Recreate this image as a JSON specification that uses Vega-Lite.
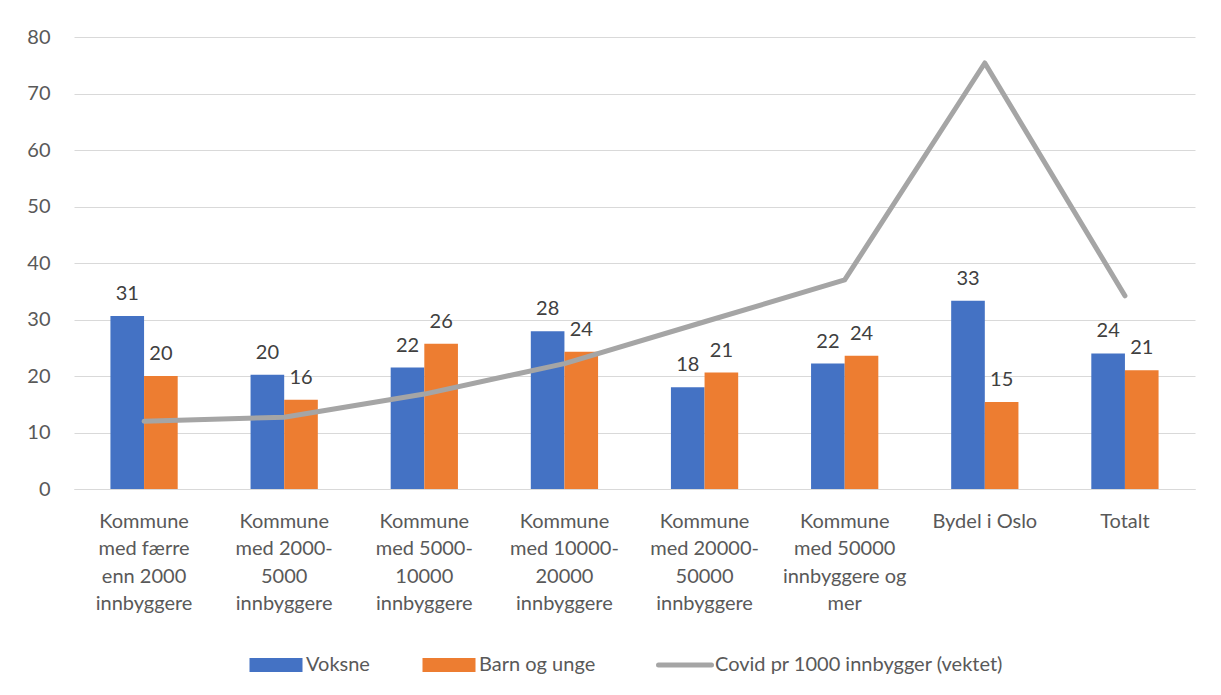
{
  "$schema": "https://vega.github.io/schema/vega-lite/v6.json",
  "width": 1221,
  "height": 695,
  "autosize": {"type": "fit", "contains": "padding"},
  "padding": {"left": 26, "top": 27, "right": 26, "bottom": 20},
  "background": "white",
  "config": {
    "font": "Lato",
    "view": {"stroke": null},
    "axis": {"labelFont": "Lato", "labelFontSize": 20, "labelColor": "#595959", "title": null},
    "legend": {"layout": {"bottom": {"anchor": "middle"}}}
  },
  "data": {
    "values": [
      {"kategori": "Kommune|med færre|enn 2000|innbyggere", "serie": "Voksne", "verdi": 30.6},
      {"kategori": "Kommune|med 2000-|5000|innbyggere", "serie": "Voksne", "verdi": 20.2},
      {"kategori": "Kommune|med 5000-|10000|innbyggere", "serie": "Voksne", "verdi": 21.5},
      {"kategori": "Kommune|med 10000-|20000|innbyggere", "serie": "Voksne", "verdi": 27.9},
      {"kategori": "Kommune|med 20000-|50000|innbyggere", "serie": "Voksne", "verdi": 18.0},
      {"kategori": "Kommune|med 50000|innbyggere og|mer", "serie": "Voksne", "verdi": 22.2},
      {"kategori": "Bydel i Oslo", "serie": "Voksne", "verdi": 33.3},
      {"kategori": "Totalt", "serie": "Voksne", "verdi": 24.0},
      {"kategori": "Kommune|med færre|enn 2000|innbyggere", "serie": "Barn og unge", "verdi": 20.0},
      {"kategori": "Kommune|med 2000-|5000|innbyggere", "serie": "Barn og unge", "verdi": 15.8},
      {"kategori": "Kommune|med 5000-|10000|innbyggere", "serie": "Barn og unge", "verdi": 25.7},
      {"kategori": "Kommune|med 10000-|20000|innbyggere", "serie": "Barn og unge", "verdi": 24.3},
      {"kategori": "Kommune|med 20000-|50000|innbyggere", "serie": "Barn og unge", "verdi": 20.6},
      {"kategori": "Kommune|med 50000|innbyggere og|mer", "serie": "Barn og unge", "verdi": 23.6},
      {"kategori": "Bydel i Oslo", "serie": "Barn og unge", "verdi": 15.4},
      {"kategori": "Totalt", "serie": "Barn og unge", "verdi": 21.0},
      {"kategori": "Kommune|med færre|enn 2000|innbyggere", "serie": "Covid pr 1000 innbygger (vektet)", "verdi": 12.0},
      {"kategori": "Kommune|med 2000-|5000|innbyggere", "serie": "Covid pr 1000 innbygger (vektet)", "verdi": 12.7},
      {"kategori": "Kommune|med 5000-|10000|innbyggere", "serie": "Covid pr 1000 innbygger (vektet)", "verdi": 16.8},
      {"kategori": "Kommune|med 10000-|20000|innbyggere", "serie": "Covid pr 1000 innbygger (vektet)", "verdi": 22.2},
      {"kategori": "Kommune|med 20000-|50000|innbyggere", "serie": "Covid pr 1000 innbygger (vektet)", "verdi": 29.6},
      {"kategori": "Kommune|med 50000|innbyggere og|mer", "serie": "Covid pr 1000 innbygger (vektet)", "verdi": 37.0},
      {"kategori": "Bydel i Oslo", "serie": "Covid pr 1000 innbygger (vektet)", "verdi": 75.4},
      {"kategori": "Totalt", "serie": "Covid pr 1000 innbygger (vektet)", "verdi": 34.2}
    ]
  },
  "encoding": {
    "x": {
      "field": "kategori",
      "type": "nominal",
      "sort": null,
      "scale": {"paddingInner": 0.52, "paddingOuter": 0.26},
      "axis": {
        "labelAngle": 0,
        "labelExpr": "split(datum.label, '|')",
        "labelLineHeight": 27.5,
        "labelPadding": 22,
        "labelBaseline": "top",
        "ticks": false,
        "domainColor": "#d9d9d9",
        "domainWidth": 1,
        "labelLimit": 200
      }
    },
    "y": {
      "field": "verdi",
      "type": "quantitative",
      "scale": {"domain": [0, 80], "nice": false},
      "axis": {
        "values": [0, 10, 20, 30, 40, 50, 60, 70, 80],
        "grid": true,
        "gridColor": "#d9d9d9",
        "domain": false,
        "ticks": false,
        "labelPadding": 24
      }
    },
    "color": {
      "field": "serie",
      "type": "nominal",
      "scale": {
        "domain": ["Voksne", "Barn og unge", "Covid pr 1000 innbygger (vektet)"],
        "range": ["#4472C4", "#ED7D31", "#A5A5A5"]
      },
      "legend": {
        "title": null,
        "orient": "bottom",
        "direction": "horizontal",
        "labelFontSize": 20,
        "labelFont": "Lato",
        "labelColor": "#595959",
        "labelLimit": 500,
        "symbolSize": 2809,
        "columnPadding": 52,
        "labelOffset": 20,
        "offset": 41,
        "encode": {
          "symbols": {
            "update": {
              "shape": {"signal": "datum.label === 'Covid pr 1000 innbygger (vektet)' ? 'stroke' : 'M-1,-0.26H1V0.26H-1Z'"},
              "fill": {"signal": "datum.label === 'Covid pr 1000 innbygger (vektet)' ? 'transparent' : scale('color', datum.value)"},
              "stroke": {"signal": "scale('color', datum.value)"},
              "strokeWidth": {"signal": "datum.label === 'Covid pr 1000 innbygger (vektet)' ? 5 : 0"},
              "strokeCap": {"value": "round"},
              "fillOpacity": {"value": 1},
              "opacity": {"value": 1}
            }
          }
        }
      }
    }
  },
  "layer": [
    {
      "transform": [{"filter": "datum.serie !== 'Covid pr 1000 innbygger (vektet)'"}],
      "mark": {"type": "bar"},
      "encoding": {
        "xOffset": {"field": "serie", "type": "nominal", "sort": ["Voksne", "Barn og unge"], "scale": {"paddingInner": 0, "paddingOuter": 0}}
      }
    },
    {
      "transform": [{"filter": "datum.serie !== 'Covid pr 1000 innbygger (vektet)'"}],
      "mark": {"type": "text", "baseline": "bottom", "dy": -12, "fontSize": 20, "font": "Lato"},
      "encoding": {
        "xOffset": {"field": "serie", "type": "nominal", "sort": ["Voksne", "Barn og unge"], "scale": {"paddingInner": 0, "paddingOuter": 0}},
        "text": {"field": "verdi", "type": "quantitative", "format": ".0f"},
        "color": {"value": "#404040"}
      }
    },
    {
      "transform": [{"filter": "datum.serie === 'Covid pr 1000 innbygger (vektet)'"}],
      "mark": {"type": "line", "interpolate": "linear", "strokeWidth": 5, "strokeCap": "round", "strokeJoin": "round"},
      "encoding": {}
    }
  ]
}
